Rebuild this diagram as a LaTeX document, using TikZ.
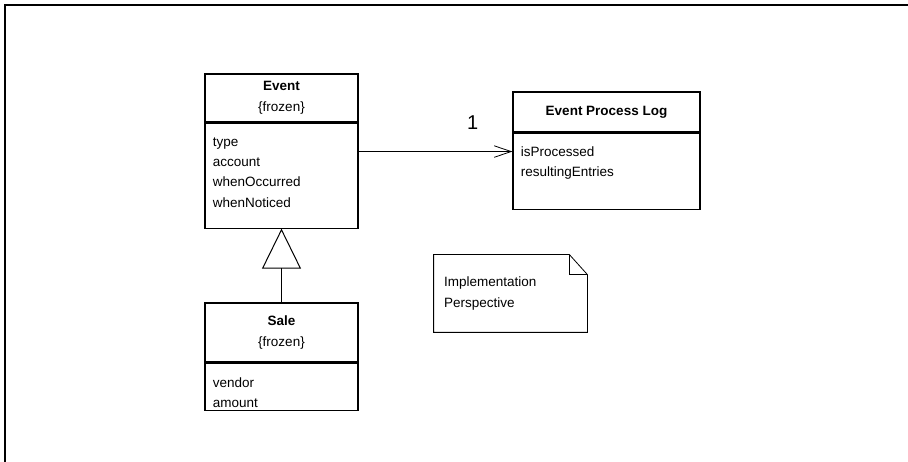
\documentclass[tikz,border=0pt]{standalone}
\usepackage{fontspec}
\setmainfont{Liberation Sans}
\usetikzlibrary{arrows.meta}

\begin{document}
\begin{tikzpicture}
    [x = 1pt, y = -1pt, line width = .8pt,
     every node/.style = {font = \fontsize{13.5}{20.2}\selectfont, inner sep = 0pt},
     box/.style = {draw, line width = 1.1pt, align = center},
     title/.style = {box, font = \fontsize{13.5}{21.5}\selectfont},
     attr/.style = {anchor = base west, text width = 150pt, xshift = 8pt, yshift = -24pt}]
    \useasboundingbox (0,0) rectangle (908,462);
    \draw[line width = 1.8pt] (5,462) -- (5,5) -- (908,5);

    \node[title, minimum width = 153pt, minimum height = 48pt] (event) at (281.5,98) {\textbf{Event}\\\{frozen\}};
    \node[box, minimum width = 153pt, minimum height = 105pt, anchor = north] (eventbody) at (event.south) {};
    \node[attr] (eventattr) at (eventbody.north west) {type\\account\\whenOccurred\\whenNoticed};

    \node[title, minimum width = 153pt, minimum height = 59pt] (sale) at (281.5,332.5) {\textbf{Sale}\\\{frozen\}};
    \node[box, minimum width = 153pt, minimum height = 47pt, anchor = north] (salebody) at (sale.south) {};
    \node[attr, yshift = -1pt] (saleattr) at (salebody.north west) {vendor\\amount};

    \node[title, minimum width = 187pt, minimum height = 40pt] (log) at (606.5,112) {\textbf{Event Process Log}};
    \node[box, minimum width = 187pt, minimum height = 76pt, anchor = north] (logbody) at (log.south) {};
    \node[attr] (logattr) at (logbody.north west) {isProcessed\\resultingEntries};

    \node[minimum width = 153pt, minimum height = 77pt, text width = 133pt, inner xsep = 10pt] (note) at (510.5,293.5) {Implementation\\Perspective};
    \draw (note.north west) -- ([xshift = -18pt]note.north east) -- ([yshift = -20pt]note.north east)
      -- (note.south east) -- (note.south west) -- cycle;
    \draw[line width = 1.3pt] ([xshift = -18pt]note.north east) |- ([yshift = -20pt]note.north east);

    \draw[-{Straight Barb[length = 17pt, width = 11.5pt]}] ([yshift = -29pt]eventbody.north east)
      -- node[pos = .742, above = 22pt, font = \fontsize{20}{24}\selectfont] (one) {1} ([yshift = -19pt]logbody.north west);
    \draw[line width = 1pt, -{Triangle[open, length = 40pt, width = 39pt]}] (sale) -- (eventbody);
  \end{tikzpicture}
\end{document}
